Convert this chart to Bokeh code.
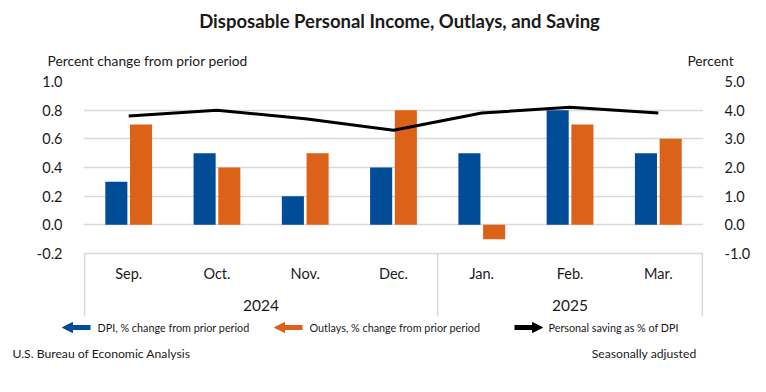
from bokeh.plotting import figure
from bokeh.layouts import column, row
from bokeh.models import (FactorRange, Range1d, LinearAxis, FixedTicker, PrintfTickFormatter,
                          Arrow, NormalHead, ColumnDataSource)
from bokeh.transform import dodge
from bokeh.core.properties import value
from bokeh.embed import file_html
from bokeh.resources import INLINE

# ---- data ----
months = ["Sep.", "Oct.", "Nov.", "Dec.", "Jan.", "Feb.", "Mar."]
years = ["2024", "2025"]
year_spans = [(0, 4), (4, 7)]
dpi = [0.3, 0.5, 0.2, 0.4, 0.5, 0.8, 0.5]
outlays = [0.7, 0.4, 0.5, 0.8, -0.1, 0.7, 0.6]
saving = [3.8, 4.0, 3.7, 3.3, 3.9, 4.1, 3.9]
left_ticks = [-0.2, 0.0, 0.2, 0.4, 0.6, 0.8, 1.0]
right_ticks = [-1.0, 0.0, 1.0, 2.0, 3.0, 4.0, 5.0]
title = "Disposable Personal Income, Outlays, and Saving"
left_title = "Percent change from prior period"
right_title = "Percent"
source_note = "U.S. Bureau of Economic Analysis"
adj_note = "Seasonally adjusted"
legend_items = ["DPI, % change from prior period", "Outlays, % change from prior period",
                "Personal saving as % of DPI"]

BLUE = "#004C97"
ORANGE = "#DC6119"
GRID = "#D9D9D9"
TXT = "#1a1a1a"
FONT = "Lato"

W = 766
H_HEAD, H_MAIN, H_FOOT = 70, 248, 74
FRAME_L, FRAME_R, FRAME_T = 83, 703, 81  # page px
PX_PER_UNIT = 143.33
RATIO = 5.0


def blank(h):
    f = figure(width=W, height=h, output_backend="svg", toolbar_location=None,
               x_range=Range1d(0, W), y_range=Range1d(h, 0),
               x_axis_location=None, y_axis_location=None,
               min_border=0, min_border_left=0, min_border_right=0,
               min_border_top=0, min_border_bottom=0)
    f.outline_line_color = None
    f.grid.visible = False
    f.background_fill_color = "white"
    f.border_fill_color = "white"
    return f


def txt(f, x, y, t, size, align="left", bold=False):
    f.text(x=[x], y=[y], text=[t], text_align=align, text_baseline="middle",
           text_font=value(FONT), text_font_size=size, text_color=TXT,
           text_font_style="bold" if bold else "normal")


# ---- header ----
head = blank(H_HEAD)
txt(head, 399, 20, title, "18.5px", align="center", bold=True)
txt(head, 47, 60, left_title, "13.8px")
txt(head, 710, 60, right_title, "13.8px", align="center")

# ---- main chart ----
top_px = FRAME_T - H_HEAD
y_top = 1.0
y_bot = y_top - (H_MAIN - top_px) / PX_PER_UNIT

p = figure(width=W, height=H_MAIN, output_backend="svg", toolbar_location=None,
           x_range=FactorRange(factors=months, range_padding=0.012, range_padding_units="absolute"),
           y_range=Range1d(y_bot, y_top), x_axis_location=None,
           min_border_left=FRAME_L, min_border_right=W - FRAME_R,
           min_border_top=top_px, min_border_bottom=0)
p.outline_line_color = None
p.background_fill_color = "white"
p.border_fill_color = "white"
p.xgrid.visible = False
p.ygrid.ticker = FixedTicker(ticks=left_ticks)
p.ygrid.grid_line_color = GRID
p.ygrid.grid_line_width = 1.6


def style_axis(ax):
    ax.axis_line_color = None
    ax.major_tick_line_color = None
    ax.minor_tick_line_color = None
    ax.major_label_text_font = FONT
    ax.major_label_text_font_size = "14.5px"
    ax.major_label_text_color = TXT
    ax.major_label_standoff = 15


p.yaxis.ticker = FixedTicker(ticks=left_ticks)
p.yaxis.formatter = PrintfTickFormatter(format="%.1f")
style_axis(p.yaxis[0])

p.extra_y_ranges = {"sav": Range1d(y_bot * RATIO, y_top * RATIO)}
rax = LinearAxis(y_range_name="sav", ticker=FixedTicker(ticks=right_ticks),
                 formatter=PrintfTickFormatter(format="%.1f"))
style_axis(rax)
p.add_layout(rax, "right")

src = ColumnDataSource(dict(m=months, dpi=dpi, out=outlays, sav=saving))
p.vbar(x=dodge("m", -0.14, range=p.x_range), top="dpi", bottom=0, width=0.25,
       source=src, fill_color=BLUE, line_color=None)
p.vbar(x=dodge("m", 0.14, range=p.x_range), top="out", bottom=0, width=0.25,
       source=src, fill_color=ORANGE, line_color=None)
p.line(x="m", y="sav", source=src, y_range_name="sav", line_color="black", line_width=3)


def ypx(py):  # page y -> left data value
    return y_top - (py - FRAME_T) / PX_PER_UNIT


sep_x = [year_spans[0][0], year_spans[0][1], year_spans[1][1]]
p.segment(x0=sep_x, x1=sep_x, y0=[left_ticks[0]] * 3, y1=[ypx(316)] * 3,
          line_color=GRID, line_width=1.6)
p.text(x=months, y=[ypx(273)] * len(months), text=months, text_align="center",
       text_baseline="middle", text_font=value(FONT), text_font_size="14.5px", text_color=TXT)
p.text(x=[(a + b) / 2 for a, b in year_spans], y=[ypx(305)] * 2, text=years,
       text_align="center", text_baseline="middle", text_font=value(FONT),
       text_font_size="15.5px", text_color=TXT)

# ---- footer: legend + notes ----
foot = blank(H_FOOT)
off = H_HEAD + H_MAIN
leg_y = 327 - off
legend_cfg = [(BLUE, 90, 62, 97), (ORANGE, 302, 274, 309), ("black", 514, 542, 548)]
for item, (col, xs, xe, xt) in zip(legend_items, legend_cfg):
    foot.add_layout(Arrow(x_start=xs, y_start=leg_y, x_end=xe, y_end=leg_y,
                          line_color=col, line_width=5,
                          end=NormalHead(size=10, fill_color=col, line_color=col, line_width=1)))
    txt(foot, xt, leg_y, item, "10.8px")
txt(foot, 12, 353 - off, source_note, "12.2px")
txt(foot, 696, 353 - off, adj_note, "12.2px", align="right")

layout = column(row(head), row(p), row(foot), spacing=0)
open("out.html", "w").write(file_html(layout, INLINE))
